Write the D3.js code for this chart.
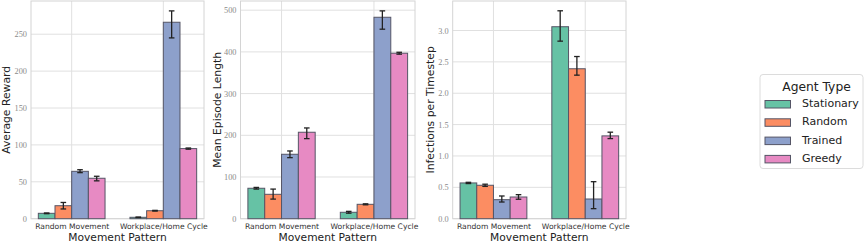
<!DOCTYPE html>
<html>
<head>
<meta charset="utf-8">
<script src="https://cdn.jsdelivr.net/npm/d3@7"></script>
<style>
  body { margin: 0; background: #fff; }
  svg { display: block; }
</style>
</head>
<body>
<div id="chart"></div>
<script>
// categories and hue groups
var categories = ["Random Movement", "Workplace/Home Cycle"];
var agentTypes = ["Stationary", "Random", "Trained", "Greedy"];
var agentColors = ["#66c2a5", "#fc8d62", "#8da0cb", "#e78ac3"];

// Average Reward (mean, lower, upper) per category x agent
var rewardMean = [[7.3, 17.6, 64.2, 54.8], [1.9, 10.8, 266.2, 95.0]];
var rewardLo   = [[6.8, 13.2, 62.4, 51.3], [1.6, 10.3, 245.0, 94.2]];
var rewardHi   = [[7.8, 22.0, 66.4, 57.5], [2.2, 11.3, 281.6, 95.8]];
var rewardTicks = [0, 50, 100, 150, 200, 250];

// Mean Episode Length
var episodeMean = [[73.0, 58.5, 154.5, 207.3], [15.4, 34.5, 483.0, 396.8]];
var episodeLo   = [[71.0, 47.0, 146.4, 192.0], [13.2, 33.3, 454.4, 394.5]];
var episodeHi   = [[75.0, 71.0, 162.4, 217.6], [17.6, 35.7, 498.3, 399.0]];
var episodeTicks = [0, 100, 200, 300, 400, 500];

// Infections per Timestep
var infectMean = [[0.570, 0.533, 0.303, 0.346], [3.060, 2.390, 0.314, 1.320]];
var infectLo   = [[0.560, 0.515, 0.266, 0.310], [2.830, 2.288, 0.160, 1.277]];
var infectHi   = [[0.580, 0.550, 0.362, 0.383], [3.314, 2.585, 0.590, 1.379]];
var infectTicks = [0, 0.5, 1.0, 1.5, 2.0, 2.5, 3.0];

var svgWidth = 864, svgHeight = 245;
var plotTop = 1, plotBottom = 218.7;

var svg = d3.select("#chart").append("svg")
  .attr("width", svgWidth)
  .attr("height", svgHeight);

var panels = [
  { left: 31, right: 204, label: "Average Reward", labelX: 10,
    mean: rewardMean, lo: rewardLo, hi: rewardHi, ticks: rewardTicks, ymax: 295, fmt: d3.format("d") },
  { left: 240.5, right: 415, label: "Mean Episode Length", labelX: 221,
    mean: episodeMean, lo: episodeLo, hi: episodeHi, ticks: episodeTicks, ymax: 522, fmt: d3.format("d") },
  { left: 452.7, right: 626, label: "Infections per Timestep", labelX: 433.5,
    mean: infectMean, lo: infectLo, hi: infectHi, ticks: infectTicks, ymax: 3.47, fmt: d3.format(".1f") }
];

var barW = 0.182; // bar width in category units

panels.forEach(function(p) {
  var x = d3.scaleLinear().domain([-0.444, 1.444]).range([p.left, p.right]);
  var y = d3.scaleLinear().domain([0, p.ymax]).range([plotBottom, plotTop]);

  var g = svg.append("g");

  // horizontal grid
  g.selectAll(".hgrid").data(p.ticks).enter().append("line")
    .attr("x1", p.left).attr("x2", p.right)
    .attr("y1", d => y(d)).attr("y2", d => y(d))
    .attr("stroke", "#e0e0e0").attr("stroke-width", 1);

  // vertical grid at categories
  g.selectAll(".vgrid").data(categories).enter().append("line")
    .attr("x1", (d, i) => x(i)).attr("x2", (d, i) => x(i))
    .attr("y1", plotTop).attr("y2", plotBottom)
    .attr("stroke", "#e0e0e0").attr("stroke-width", 1);

  // frame
  g.append("rect")
    .attr("x", p.left).attr("y", plotTop)
    .attr("width", p.right - p.left).attr("height", plotBottom - plotTop)
    .attr("fill", "none").attr("stroke", "#d4d4d4").attr("stroke-width", 1);

  // bars
  var rows = [];
  categories.forEach(function(c, ci) {
    agentTypes.forEach(function(a, ai) {
      rows.push({ ci: ci, ai: ai, v: p.mean[ci][ai], lo: p.lo[ci][ai], hi: p.hi[ci][ai] });
    });
  });

  g.selectAll(".bar").data(rows).enter().append("rect")
    .attr("x", d => x(d.ci + (d.ai - 2) * barW))
    .attr("width", d => x(d.ci + (d.ai - 1) * barW) - x(d.ci + (d.ai - 2) * barW))
    .attr("y", d => y(d.v))
    .attr("height", d => y(0) - y(d.v))
    .attr("fill", d => agentColors[d.ai])
    .attr("stroke", "#555566").attr("stroke-width", 1);

  // error bars
  var cx = d => x(d.ci + (d.ai - 1.5) * barW);
  g.selectAll(".err").data(rows).enter().append("line")
    .attr("x1", cx).attr("x2", cx)
    .attr("y1", d => y(d.lo)).attr("y2", d => y(d.hi))
    .attr("stroke", "#222").attr("stroke-width", 1.3);
  ["lo", "hi"].forEach(function(k) {
    g.selectAll(".cap" + k).data(rows).enter().append("line")
      .attr("x1", d => cx(d) - 2.8).attr("x2", d => cx(d) + 2.8)
      .attr("y1", d => y(d[k])).attr("y2", d => y(d[k]))
      .attr("stroke", "#222").attr("stroke-width", 1.3);
  });

  // y axis labels
  var yAxis = g.append("g")
    .attr("transform", `translate(${p.left}, 0)`)
    .call(d3.axisLeft(y).tickValues(p.ticks).tickFormat(p.fmt).tickSize(0).tickPadding(4));
  yAxis.select(".domain").remove();
  yAxis.selectAll("text")
    .attr("font-family", "'Liberation Serif', serif")
    .attr("font-size", "8.3px")
    .attr("fill", "#8a8a8a");

  // x axis labels
  var xAxis = g.append("g")
    .attr("transform", `translate(0, ${plotBottom})`)
    .call(d3.axisBottom(x).tickValues([0, 1]).tickFormat(i => categories[i]).tickSize(0).tickPadding(5));
  xAxis.select(".domain").remove();
  xAxis.selectAll("text")
    .attr("font-family", "'DejaVu Sans', sans-serif")
    .attr("font-size", "7.6px")
    .attr("fill", "#333");

  // axis titles
  g.append("text")
    .attr("x", (p.left + p.right) / 2).attr("y", 241)
    .attr("text-anchor", "middle")
    .attr("font-family", "'DejaVu Sans', sans-serif")
    .attr("font-size", "10.7px").attr("fill", "#222")
    .text("Movement Pattern");

  g.append("text")
    .attr("transform", `translate(${p.labelX}, ${(plotTop + plotBottom) / 2}) rotate(-90)`)
    .attr("text-anchor", "middle")
    .attr("font-family", "'DejaVu Sans', sans-serif")
    .attr("font-size", "10.8px").attr("fill", "#222")
    .text(p.label);
});

// legend
var legend = svg.append("g").attr("transform", "translate(760, 74.5)");
legend.append("rect")
  .attr("width", 103).attr("height", 94).attr("rx", 3)
  .attr("fill", "#fff").attr("stroke", "#dcdcdc").attr("stroke-width", 1);
legend.append("text")
  .attr("x", 56.5).attr("y", 16)
  .attr("text-anchor", "middle")
  .attr("font-family", "'DejaVu Sans', sans-serif")
  .attr("font-size", "12.3px").attr("fill", "#222")
  .text("Agent Type");

var items = legend.selectAll(".item").data(agentTypes).enter().append("g")
  .attr("transform", (d, i) => `translate(0, ${32.5 + i * 18.3})`);
items.append("rect")
  .attr("x", 5).attr("y", -6.5).attr("width", 25.5).attr("height", 7.5)
  .attr("fill", (d, i) => agentColors[i])
  .attr("stroke", "#555566").attr("stroke-width", 1);
items.append("text")
  .attr("x", 42).attr("y", 0)
  .attr("font-family", "'DejaVu Sans', sans-serif")
  .attr("font-size", "11px").attr("fill", "#222")
  .text(d => d);
</script>
</body>
</html>
